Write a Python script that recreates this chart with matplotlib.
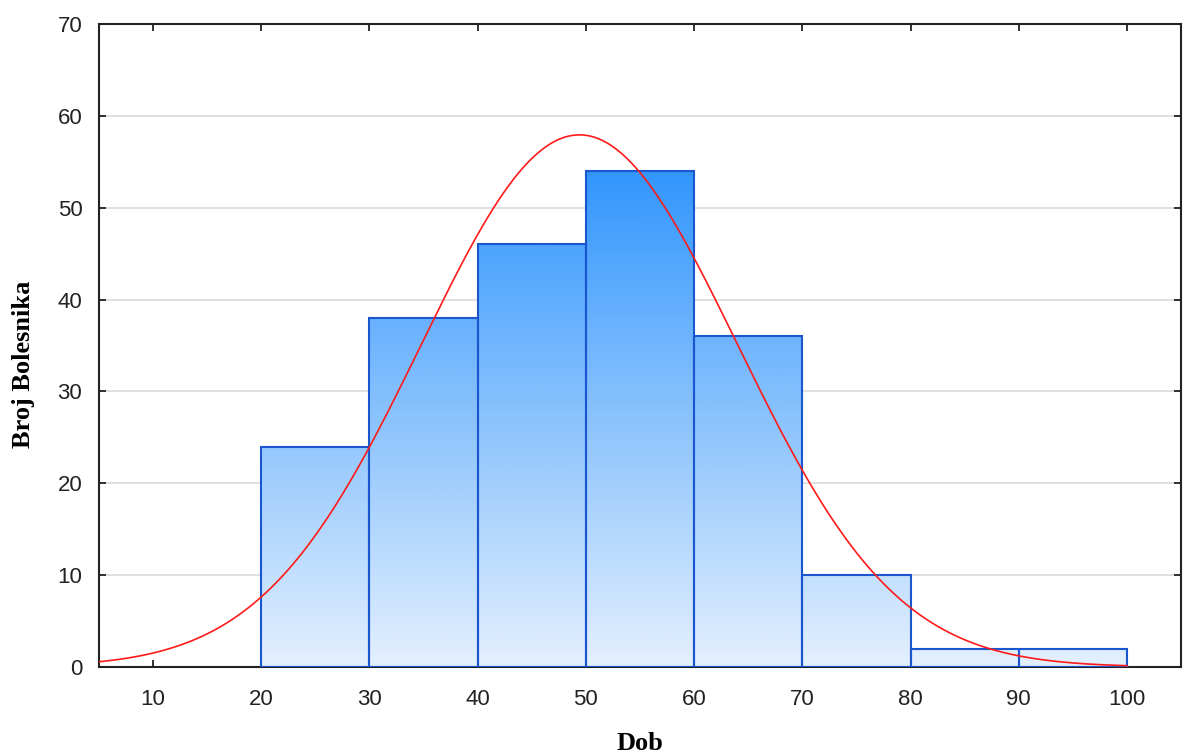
import numpy as np
import matplotlib
matplotlib.use('Agg')
import matplotlib.pyplot as plt
from matplotlib.colors import LinearSegmentedColormap
from matplotlib.patches import Rectangle

# histogram of age (Dob) -> number of patients
bin_edges = [20, 30, 40, 50, 60, 70, 80, 90, 100]
counts = [24, 38, 46, 54, 36, 10, 2, 2]

# fitted normal curve parameters
fit_mean = 49.4
fit_sd = 14.6
curve_range = [5, 100]

x_ticks = [10, 20, 30, 40, 50, 60, 70, 80, 90, 100]
y_ticks = [0, 10, 20, 30, 40, 50, 60, 70]

fig = plt.figure(figsize=(11.84, 7.54), dpi=100)
ax = fig.add_axes([0.0836, 0.1154, 0.9139, 0.8528])
ax.set_xlim(5, 105)
ax.set_ylim(0, 70)

cmap = LinearSegmentedColormap.from_list('blues', ['#e4f0fd', '#3296fd'])
grad = np.linspace(0, 1, 256).reshape(-1, 1)
ymax = max(counts)

for left, right, c in zip(bin_edges[:-1], bin_edges[1:], counts):
    im = ax.imshow(grad, cmap=cmap, aspect='auto', origin='lower',
                   extent=[left, right, 0, ymax], vmin=0, vmax=1,
                   interpolation='bilinear', zorder=2)
    rect = Rectangle((left, 0), right - left, c, facecolor='none',
                     edgecolor='#1a56d0', linewidth=1.5, zorder=3)
    ax.add_patch(rect)
    im.set_clip_path(rect)

# normal curve scaled to counts
n_total = sum(counts)
width = bin_edges[1] - bin_edges[0]
xs = np.linspace(curve_range[0], curve_range[1], 400)
ys = n_total * width / (fit_sd * np.sqrt(2 * np.pi)) * np.exp(-0.5 * ((xs - fit_mean) / fit_sd) ** 2)
ax.plot(xs, ys, color='#ff1a1a', linewidth=1.2, zorder=4)

ax.set_xticks(x_ticks)
ax.set_yticks(y_ticks)
ax.yaxis.grid(True, color='#d9d9d9', linewidth=1.2, zorder=0)
ax.set_axisbelow(True)
ax.tick_params(direction='in', length=5, width=1.3, top=True, right=True,
               labelsize=16, colors='#222222')
ax.tick_params(axis='x', pad=16)
ax.tick_params(axis='y', pad=12)
for lbl in ax.get_xticklabels() + ax.get_yticklabels():
    lbl.set_fontfamily('Liberation Sans')
for sp in ax.spines.values():
    sp.set_linewidth(1.5)
    sp.set_color('#222222')

ax.set_xlabel('Dob', fontfamily='Liberation Serif', fontweight='bold', fontsize=19, labelpad=16)
ax.set_ylabel('Broj Bolesnika', fontfamily='Liberation Serif', fontweight='bold', fontsize=19)
ax.yaxis.set_label_coords(-0.059, 0.47)

fig.savefig('out.png', dpi=100)
